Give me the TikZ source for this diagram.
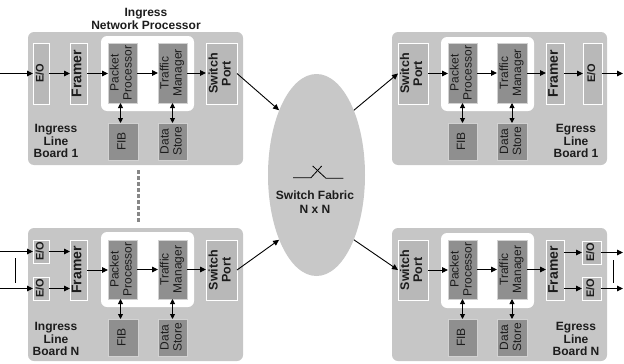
\documentclass[tikz,border=0pt]{standalone}
\usepackage{fontspec}
\setmainfont{Liberation Sans}
\usepackage{graphicx}
\usetikzlibrary{arrows.meta,shapes.geometric}
\definecolor{boardc}{RGB}{198,198,198}
\definecolor{lboxc}{RGB}{184,184,184}
\definecolor{dboxc}{RGB}{143,143,143}
\definecolor{txtc}{RGB}{28,28,28}
\definecolor{dashc}{RGB}{135,135,135}
\definecolor{fabc}{RGB}{200,200,200}
\newcommand{\rt}[1]{\rotatebox{90}{\begin{tabular}{@{}c@{}}#1\end{tabular}}}
\newcommand{\bx}[7]{\node[#2, minimum width={(#5-#3)*1pt}, minimum height={(#6-#4)*1pt}] (#1) at ({(#3+#5)/2},{(#4+#6)/2}) {#7};}
\begin{document}
\begin{tikzpicture}[x=1pt,y=-1pt,
  board/.style={fill=boardc, rounded corners=6pt, inner sep=0pt, outer sep=0pt},
  warea/.style={fill=white, rounded corners=6pt, inner sep=0pt, outer sep=0pt},
  lbox/.style={draw=white, line width=0.8pt, fill=lboxc, inner sep=0pt, outer sep=0pt, text=txtc, font=\bfseries\fontsize{12.5}{13}\selectfont},
  eof/.style={font=\bfseries\fontsize{11}{13}\selectfont},
  frf/.style={font=\bfseries\fontsize{14}{14}\selectfont},
  dbox/.style={draw=white!60!dboxc, line width=0.6pt, fill=dboxc, inner sep=0pt, outer sep=0pt, text=txtc, font=\fontsize{12}{13}\selectfont},
  blabel/.style={align=center, text=txtc, font=\bfseries\fontsize{12}{12.8}\selectfont, inner sep=0pt},
  arr/.style={-{Triangle[length=6pt,width=5.5pt]}, line width=0.9pt},
  darr/.style={{Triangle[length=5pt,width=5pt]}-{Triangle[length=5pt,width=5pt]}, line width=0.9pt},
  thin/.style={line width=0.9pt}
]
\useasboundingbox (0,0) rectangle (624,364);

% ---------------- Ingress Line Board 1
\bx{i1b}{board}{28}{32}{243}{165}{}
\bx{i1w}{warea}{101}{36}{194}{111}{}
\bx{i1eo}{lbox,eof}{33}{43}{49}{104}{\rt{E/O}}
\bx{i1fr}{lbox,frf}{70}{43}{87}{104}{\rt{Framer}}
\bx{i1pp}{dbox}{108}{43}{137}{103}{\rt{Packet\\Processor}}
\bx{i1tm}{dbox}{158}{43}{187}{103}{\rt{Traffic\\Manager}}
\bx{i1sp}{lbox}{206}{43}{237}{104}{\rt{Switch\\Port}}
\bx{i1fib}{dbox}{108}{123}{138}{160}{\rt{FIB}}
\bx{i1ds}{dbox}{158}{123}{187}{160}{\rt{Data\\Store}}
\node[blabel] (i1lab) at (56,141) {Ingress\\Line\\Board 1};
\node[blabel, font=\bfseries\fontsize{12}{13}\selectfont] (title) at (146,18.5) {Ingress\\Network Processor};
\coordinate (i1in) at (0,73.5);
\draw[arr] (i1in) -- (i1in -| i1eo.west);
\draw[arr] (i1eo.east) -- (i1eo.east -| i1fr.west);
\draw[arr] (i1fr.east) -- (i1fr.east -| i1pp.west);
\draw[arr] (i1pp.east) -- (i1pp.east -| i1tm.west);
\draw[arr] (i1tm.east) -- (i1tm.east -| i1sp.west);
\draw[darr] ([xshift=-2pt]i1pp.south) -- ([xshift=-2pt]i1pp.south |- i1fib.north);
\draw[darr] (i1tm.south) -- (i1tm.south |- i1ds.north);

% dashed continuation
\coordinate (dtop) at (138,170);
\coordinate (dbot) at (138,222);
\draw[dashc, line width=3pt, dash pattern=on 4pt off 2pt] (dtop) -- (dbot);

% ---------------- Ingress Line Board N
\bx{i2b}{board}{28}{228}{243}{361}{}
\bx{i2w}{warea}{101}{232}{194}{307}{}
\bx{i2eoa}{lbox,eof}{33}{240}{49}{263}{\rt{E/O}}
\bx{i2eob}{lbox,eof}{33}{277}{49}{300}{\rt{E/O}}
\bx{i2fr}{lbox,frf}{70}{240}{87}{300}{\rt{Framer}}
\bx{i2pp}{dbox}{108}{240}{137}{299}{\rt{Packet\\Processor}}
\bx{i2tm}{dbox}{158}{240}{187}{299}{\rt{Traffic\\Manager}}
\bx{i2sp}{lbox}{206}{240}{237}{300}{\rt{Switch\\Port}}
\bx{i2fib}{dbox}{108}{319}{138}{356}{\rt{FIB}}
\bx{i2ds}{dbox}{158}{319}{187}{356}{\rt{Data\\Store}}
\node[blabel] (i2lab) at (56,339) {Ingress\\Line\\Board N};
\coordinate (i2ina) at (0,251.5);
\coordinate (i2inb) at (0,288.5);
\draw[arr] (i2ina) -- (i2ina -| i2eoa.west);
\draw[arr] (i2inb) -- (i2inb -| i2eob.west);
\coordinate (i2va) at (15,258);
\coordinate (i2vb) at (15,283);
\draw[thin] (i2va) -- (i2vb);
\draw[arr] (i2eoa.east) -- (i2eoa.east -| i2fr.west);
\draw[arr] (i2eob.east) -- (i2eob.east -| i2fr.west);
\draw[arr] (i2fr.east) -- (i2fr.east -| i2pp.west);
\draw[arr] (i2pp.east) -- (i2pp.east -| i2tm.west);
\draw[arr] (i2tm.east) -- (i2tm.east -| i2sp.west);
\draw[darr] ([xshift=-2pt]i2pp.south) -- ([xshift=-2pt]i2pp.south |- i2fib.north);
\draw[darr] (i2tm.south) -- (i2tm.south |- i2ds.north);

% ---------------- Switch fabric
\node[ellipse, fill=fabc, minimum width=97pt, minimum height=202pt, inner sep=0pt] (fab) at (316.5,175) {};
\draw[line width=0.8pt] (293,177.7) -- (311,177.7) -- (321.7,166);
\draw[line width=0.8pt] (312.7,166) -- (326,178.3) -- (343.3,178.3);
\node[blabel, font=\bfseries\fontsize{12}{14}\selectfont] (fablab) at (315,202) {Switch Fabric\\N x N};

\draw[arr] (i1sp.east) -- (fab.120);
\draw[arr] (i2sp.east) -- (fab.240);

% ---------------- Egress Line Board 1
\bx{e1b}{board}{392}{32}{607}{165}{}
\bx{e1w}{warea}{441}{37}{534}{111}{}
\bx{e1sp}{lbox}{398}{43}{428}{104}{\rt{Switch\\Port}}
\bx{e1pp}{dbox}{448}{43}{477}{103}{\rt{Packet\\Processor}}
\bx{e1tm}{dbox}{497}{43}{527}{103}{\rt{Traffic\\Manager}}
\bx{e1fr}{lbox,frf}{546}{43}{564}{104}{\rt{Framer}}
\bx{e1eo}{lbox,eof}{583}{43}{602}{104}{\rt{E/O}}
\bx{e1fib}{dbox}{448}{123}{477}{160}{\rt{FIB}}
\bx{e1ds}{dbox}{497}{123}{527}{160}{\rt{Data\\Store}}
\node[blabel] (e1lab) at (576,141) {Egress\\Line\\Board 1};
\coordinate (e1out) at (623,73.5);
\draw[arr] (e1sp.east) -- (e1sp.east -| e1pp.west);
\draw[arr] (e1pp.east) -- (e1pp.east -| e1tm.west);
\draw[arr] (e1tm.east) -- (e1tm.east -| e1fr.west);
\draw[arr] (e1fr.east) -- (e1fr.east -| e1eo.west);
\draw[arr] (e1eo.east) -- (e1out);
\draw[darr] (e1pp.south) -- (e1pp.south |- e1fib.north);
\draw[darr] (e1tm.south) -- (e1tm.south |- e1ds.north);
\draw[arr] (fab.60) -- (e1sp.west);

% ---------------- Egress Line Board N
\bx{e2b}{board}{392}{228}{607}{361}{}
\bx{e2w}{warea}{441}{233}{534}{308}{}
\bx{e2sp}{lbox}{398}{240}{428}{300}{\rt{Switch\\Port}}
\bx{e2pp}{dbox}{448}{240}{477}{299}{\rt{Packet\\Processor}}
\bx{e2tm}{dbox}{497}{240}{527}{299}{\rt{Traffic\\Manager}}
\bx{e2fr}{lbox,frf}{546}{240}{564}{300}{\rt{Framer}}
\bx{e2eoa}{lbox,eof}{582}{241}{601}{264}{\rt{E/O}}
\bx{e2eob}{lbox,eof}{582}{277}{601}{300}{\rt{E/O}}
\bx{e2fib}{dbox}{448}{319}{477}{356}{\rt{FIB}}
\bx{e2ds}{dbox}{497}{319}{527}{356}{\rt{Data\\Store}}
\node[blabel] (e2lab) at (576,339) {Egress\\Line\\Board N};
\coordinate (e2outa) at (623,252.5);
\coordinate (e2outb) at (623,288.5);
\draw[arr] (e2sp.east) -- (e2sp.east -| e2pp.west);
\draw[arr] (e2pp.east) -- (e2pp.east -| e2tm.west);
\draw[arr] (e2tm.east) -- (e2tm.east -| e2fr.west);
\draw[arr] (e2fr.east |- e2eoa) -- (e2eoa.west);
\draw[arr] (e2fr.east |- e2eob) -- (e2eob.west);
\draw[arr] (e2eoa.east) -- (e2outa);
\draw[arr] (e2eob.east) -- (e2outb);
\coordinate (e2va) at (613,260);
\coordinate (e2vb) at (613,283);
\draw[thin] (e2va) -- (e2vb);
\draw[darr] (e2pp.south) -- (e2pp.south |- e2fib.north);
\draw[darr] (e2tm.south) -- (e2tm.south |- e2ds.north);
\draw[arr] (fab.300) -- (e2sp.west);
\end{tikzpicture}
\end{document}
